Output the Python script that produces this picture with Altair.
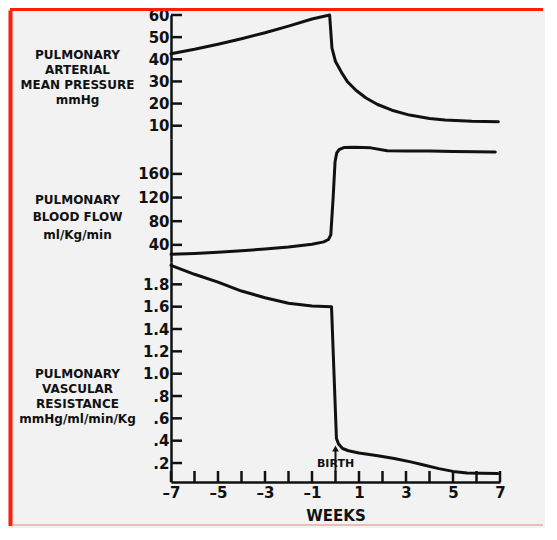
import altair as alt
import pandas as pd

# ---------------- data ----------------
WEEK_TICKS = list(range(-7, 8))
WEEK_LABELS = [-7, -5, -3, -1, 1, 3, 5, 7]

# Pulmonary arterial mean pressure (mmHg)
pap_weeks = [-7, -6, -5, -4, -3, -2, -1, -0.25, -0.15, 0.0, 0.26, 0.5, 0.87, 1.3,
             1.77, 2.4, 3.15, 4.0, 4.66, 5.8, 6.93]
pap_vals = [42.5, 44.5, 46.8, 49.3, 52.0, 55.0, 58.2, 60.0, 45.0, 39.0, 34.0, 30.0,
            26.0, 22.5, 19.7, 17.0, 14.8, 13.3, 12.6, 12.0, 11.8]
pap_ticks = [10, 20, 30, 40, 50, 60]

# Pulmonary blood flow (ml/Kg/min)
flow_weeks = [-7, -6, -5, -4, -3, -2, -1, -0.5, -0.3, -0.2, -0.1, -0.02, 0.05, 0.15,
              0.35, 0.8, 1.5, 2.2, 3, 4, 5, 6, 6.8]
flow_vals = [24, 25.5, 27.5, 30, 33, 36.5, 41, 45, 49, 57, 120, 180, 195, 201, 204.5,
             205, 204, 199, 198.5, 198.5, 198, 197.5, 197]
flow_ticks = [40, 80, 120, 160]

# Pulmonary vascular resistance (mmHg/ml/min/Kg)
pvr_weeks = [-7, -6, -5, -4, -3, -2, -1, -0.17, 0.04, 0.13, 0.3, 0.55, 1.0, 1.8, 2.5,
             3.2, 3.8, 4.4, 5.0, 5.6, 6.9]
pvr_vals = [1.97, 1.89, 1.82, 1.74, 1.68, 1.63, 1.605, 1.60, 0.42, 0.37, 0.33, 0.31,
            0.29, 0.265, 0.24, 0.21, 0.18, 0.15, 0.125, 0.11, 0.105]
pvr_ticks = [0.2, 0.4, 0.6, 0.8, 1.0, 1.2, 1.4, 1.6, 1.8]

birth_week = [0]
birth_label_val = [0.187]
birth_arrow_from = [0.12]
birth_arrow_to = [0.33]
birth_text = ["BIRTH"]

# ---------------- style ----------------
INK = "#111111"
RED = "#ff1e0a"
BG = "#f2f2f2"
FONT = "DejaVu Sans"
W = 329
H1, H2, H3 = 124, 123, 220
D1, D2, D3 = [4, 60], [11, 219], [0.03, 2.0]

x_scale = alt.Scale(domain=[-7, 7], nice=False, zero=False)


def x_enc(show):
    if show:
        ax = alt.Axis(values=WEEK_LABELS, ticks=False, tickSize=0, domain=True,
                      domainColor=INK, domainWidth=2.5, grid=False,
                      labelExpr="datum.value < 0 ? '\u2013' + abs(datum.value) : '' + datum.value",
                      labelFontSize=15, labelFont=FONT, labelFontWeight="bold",
                      labelColor=INK, labelPadding=3, labelFlush=False, labelOverlap=False,
                      title="WEEKS", titleFontSize=15, titleFont=FONT,
                      titleFontWeight="bold", titleColor=INK, titlePadding=8)
        return alt.X("w:Q", scale=x_scale, axis=ax)
    return alt.X("w:Q", scale=x_scale, axis=None)


def y_enc(domain, ticks, title, title_y, line_h, **extra):
    ax = alt.Axis(values=ticks, ticks=False, tickSize=0, domain=True, domainColor=INK,
                  domainWidth=2.5, grid=False, labelFontSize=15, labelFont=FONT,
                  labelFontWeight="bold", labelColor=INK, labelPadding=2,
                  labelFlush=False, labelOverlap=False,
                  title=title, titleAngle=0, titleAlign="center", titleBaseline="top",
                  titleX=-94, titleY=title_y, titleLineHeight=line_h, titleFontSize=12,
                  titleFont=FONT, titleFontWeight="bold", titleColor=INK, **extra)
    return alt.Y("v:Q", scale=alt.Scale(domain=domain, nice=False, zero=False), axis=ax)


def panel(weeks, vals, ticks, domain, title, title_y, line_h, show_x=False, **extra):
    xe = x_enc(show_x)
    ye = y_enc(domain, ticks, title, title_y, line_h, **extra)
    line = alt.Chart(pd.DataFrame({"w": weeks, "v": vals})).mark_line(
        color=INK, strokeWidth=3, strokeJoin="round", strokeCap="round"
    ).encode(x=xe, y=ye)
    yt = alt.Chart(pd.DataFrame({"v": ticks})).mark_rule(color=INK, strokeWidth=2.5).encode(
        y=ye, x=alt.value(0), x2=alt.value(11))
    return [line, yt], xe, ye


one = pd.DataFrame({"k": [0]})

# top panel
l1, xe1, ye1 = panel(pap_weeks, pap_vals, pap_ticks, D1,
                     ["PULMONARY", "ARTERIAL", "MEAN PRESSURE", "mmHg"], 34, 15)
red_top = alt.Chart(one).mark_rule(color=RED, strokeWidth=3).encode(
    x=alt.value(-161), x2=alt.value(372), y=alt.value(-5.5))
red_left = alt.Chart(one).mark_rule(color=RED, strokeWidth=4).encode(
    x=alt.value(-160.5), y=alt.value(-4.5), y2=alt.value(511))
p1 = alt.layer(red_top, red_left, *l1).properties(width=W, height=H1)

# middle panel
l2, xe2, ye2 = panel(flow_weeks, flow_vals, flow_ticks, D2,
                     ["PULMONARY", "BLOOD FLOW", "ml/Kg/min"], 55, 17.5)
p2 = alt.layer(*l2).properties(width=W, height=H2)

# bottom panel
l3, xe3, ye3 = panel(pvr_weeks, pvr_vals, pvr_ticks, D3,
                     ["PULMONARY", "VASCULAR", "RESISTANCE", "mmHg/ml/min/Kg"], 106, 15,
                     show_x=True,
                     labelExpr="datum.value >= 1 ? format(datum.value, '.1f') : substring(format(datum.value, '.1f'), 1)")
xt = alt.Chart(pd.DataFrame({"w": WEEK_TICKS})).mark_rule(color=INK, strokeWidth=2.5).encode(
    x=xe3, y=alt.value(H3), y2=alt.value(H3 - 11))
shaft = alt.Chart(pd.DataFrame({"w": birth_week, "v": birth_arrow_from,
                                "v1": birth_arrow_to})).mark_rule(
    color=INK, strokeWidth=2).encode(x=xe3, y=ye3, y2="v1:Q")
head = alt.Chart(pd.DataFrame({"w": birth_week, "v": birth_arrow_to})).mark_point(
    shape="triangle-up", filled=True, color=INK, size=45, opacity=1).encode(x=xe3, y=ye3)
btxt = alt.Chart(pd.DataFrame({"w": birth_week, "v": birth_label_val, "t": birth_text})).mark_text(
    font=FONT, fontSize=11, fontWeight="bold", color=INK, baseline="middle"
).encode(x=xe3, y=ye3, text="t:N")
pink = alt.Chart(one).mark_rule(color="#f2a6a6", strokeWidth=1.5).encode(
    x=alt.value(-158), x2=alt.value(372), y=alt.value(H3 + 43))
p3 = alt.layer(*l3, xt, shaft, head, btxt, pink).properties(width=W, height=H3)

chart = alt.vconcat(p1, p2, p3, spacing=0, bounds="flush").properties(
    padding=0, background=BG
).configure_view(stroke=None)

chart.save("out.html", embed_options={"renderer": "svg", "actions": False})
